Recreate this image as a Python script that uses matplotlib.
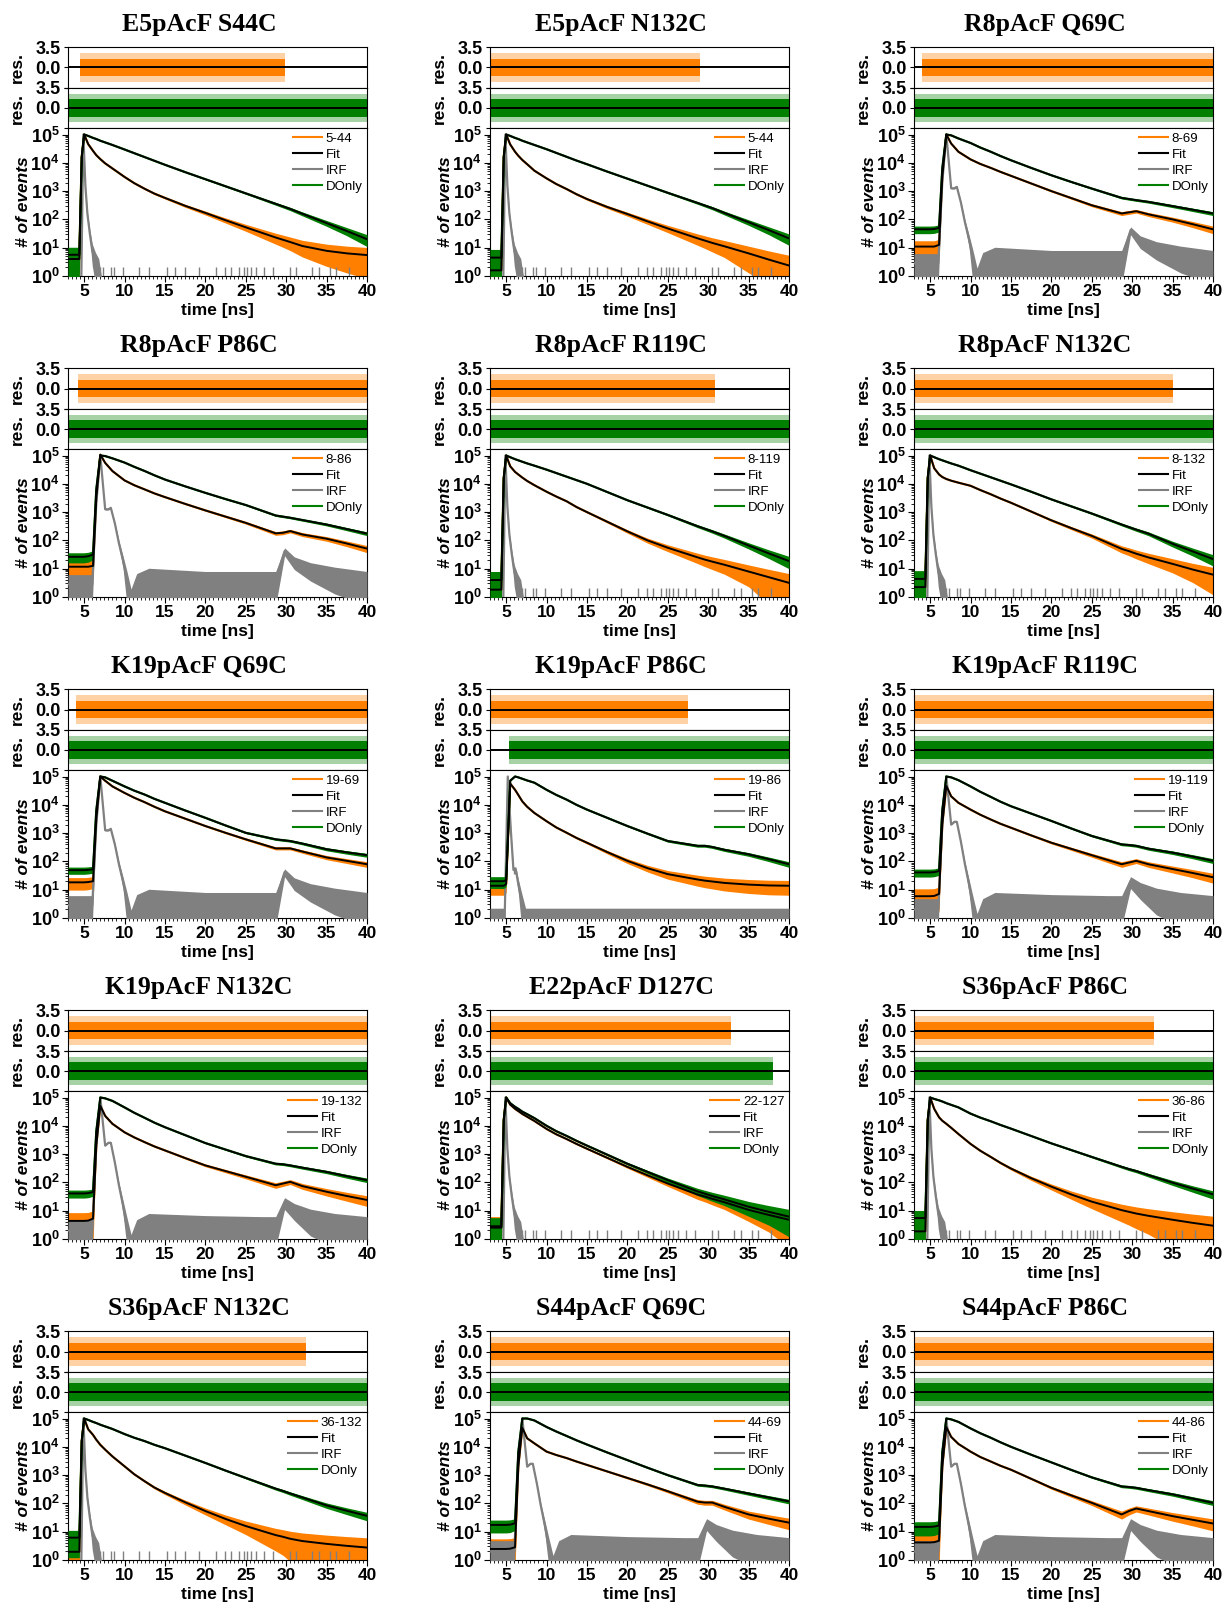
"""
Decaimientos TCSPC (aceptor / solo donador) con residuos, 15 mutantes.
"""
import numpy as np
import matplotlib
matplotlib.use("Agg")
import matplotlib.pyplot as plt
from matplotlib.lines import Line2D
from matplotlib.ticker import MultipleLocator, FixedLocator, FuncFormatter, LogLocator, NullFormatter

plt.rcParams["font.family"] = ["Liberation Sans", "DejaVu Sans"]
plt.rcParams["font.weight"] = "bold"
plt.rcParams["mathtext.fontset"] = "custom"
plt.rcParams["mathtext.rm"] = "Liberation Sans:bold"
plt.rcParams["mathtext.bf"] = "Liberation Sans:bold"

# ---- datos (log10 de cuentas) ----
TITLES = ["E5pAcF S44C", "E5pAcF N132C", "R8pAcF Q69C",
          "R8pAcF P86C", "R8pAcF R119C", "R8pAcF N132C",
          "K19pAcF Q69C", "K19pAcF P86C", "K19pAcF R119C",
          "K19pAcF N132C", "E22pAcF D127C", "S36pAcF P86C",
          "S36pAcF N132C", "S44pAcF Q69C", "S44pAcF P86C"]
LABELS = ["5-44", "5-44", "8-69", "8-86", "8-119", "8-132", "19-69", "19-86",
          "19-119", "19-132", "22-127", "36-86", "36-132", "44-69", "44-86"]

TIME = [3.0, 4.4, 4.7, 5.0, 5.5, 6.1, 6.5, 7.0, 7.6, 8.5, 10, 11.2, 12.5, 13.7, 15,
        17.5, 20, 22.5, 25, 28.7, 29.6, 30.5, 32, 35, 37.5, 40]

acc_e5_s44c = [0.6, 0.6, 4.2, 5.0, 4.66, 4.42, 4.27, 4.13, 3.98, 3.8, 3.5, 3.28, 3.08, 2.91, 2.76, 2.48, 2.23, 1.97, 1.72, 1.36, 1.28, 1.2, 1.06, 0.89, 0.8, 0.74]
don_e5_s44c = [0.75, 0.75, 4.2, 5.0, 4.95, 4.88, 4.84, 4.78, 4.72, 4.63, 4.47, 4.34, 4.2, 4.07, 3.93, 3.67, 3.42, 3.17, 2.92, 2.55, 2.46, 2.37, 2.2, 1.87, 1.59, 1.3]
acc_e5_n132c = [0.2, 0.2, 4.2, 5.0, 4.65, 4.39, 4.25, 4.1, 3.95, 3.72, 3.45, 3.25, 3.07, 2.89, 2.72, 2.44, 2.19, 1.93, 1.68, 1.33, 1.25, 1.17, 1.05, 0.8, 0.58, 0.37]
don_e5_n132c = [0.65, 0.65, 4.2, 5.0, 4.95, 4.88, 4.84, 4.78, 4.72, 4.63, 4.48, 4.35, 4.21, 4.08, 3.95, 3.69, 3.44, 3.19, 2.94, 2.58, 2.49, 2.4, 2.23, 1.9, 1.62, 1.33]
acc_r8_q69c = [1.04, 1.04, 1.04, 1.04, 1.04, 1.1, 3.5, 5.0, 4.68, 4.39, 4.12, 3.96, 3.82, 3.68, 3.54, 3.27, 3.0, 2.75, 2.5, 2.21, 2.25, 2.29, 2.18, 2.0, 1.83, 1.65]
don_r8_q69c = [1.65, 1.65, 1.65, 1.65, 1.66, 1.7, 3.8, 5.0, 4.97, 4.86, 4.7, 4.54, 4.39, 4.24, 4.09, 3.82, 3.56, 3.32, 3.09, 2.76, 2.72, 2.68, 2.62, 2.47, 2.34, 2.21]
acc_r8_p86c = [1.07, 1.07, 1.07, 1.07, 1.07, 1.1, 3.5, 5.03, 4.74, 4.45, 4.12, 3.95, 3.8, 3.66, 3.53, 3.29, 3.06, 2.84, 2.62, 2.25, 2.27, 2.33, 2.21, 2.06, 1.89, 1.71]
don_r8_p86c = [1.42, 1.42, 1.42, 1.42, 1.44, 1.5, 3.8, 5.0, 4.98, 4.9, 4.75, 4.6, 4.45, 4.3, 4.15, 3.91, 3.68, 3.46, 3.25, 2.88, 2.84, 2.8, 2.72, 2.56, 2.4, 2.24]
acc_r8_r119c = [0.26, 0.26, 4.2, 5.0, 4.62, 4.42, 4.33, 4.22, 4.1, 3.95, 3.72, 3.55, 3.38, 3.18, 3.0, 2.66, 2.32, 2.0, 1.74, 1.4, 1.32, 1.25, 1.14, 0.9, 0.7, 0.5]
don_r8_r119c = [0.6, 0.6, 4.2, 5.0, 4.94, 4.87, 4.83, 4.78, 4.72, 4.64, 4.5, 4.38, 4.25, 4.13, 4.0, 3.71, 3.42, 3.16, 2.9, 2.5, 2.41, 2.32, 2.16, 1.82, 1.54, 1.27]
acc_r8_n132c = [0.35, 0.35, 4.2, 5.0, 4.55, 4.33, 4.24, 4.17, 4.11, 4.04, 3.93, 3.78, 3.63, 3.48, 3.33, 3.02, 2.71, 2.43, 2.16, 1.7, 1.62, 1.53, 1.4, 1.17, 0.97, 0.79]
don_r8_n132c = [0.64, 0.64, 4.2, 5.0, 4.94, 4.87, 4.83, 4.78, 4.72, 4.64, 4.48, 4.36, 4.23, 4.11, 3.98, 3.72, 3.45, 3.2, 2.95, 2.56, 2.47, 2.38, 2.24, 1.88, 1.61, 1.34]
acc_k19_q69c = [1.26, 1.26, 1.26, 1.26, 1.27, 1.3, 3.5, 5.0, 4.85, 4.65, 4.42, 4.25, 4.09, 3.93, 3.77, 3.51, 3.25, 3.01, 2.78, 2.46, 2.46, 2.46, 2.35, 2.14, 2.02, 1.9]
don_k19_q69c = [1.69, 1.69, 1.69, 1.69, 1.7, 1.72, 3.8, 5.0, 4.97, 4.85, 4.65, 4.5, 4.36, 4.21, 4.07, 3.8, 3.54, 3.27, 3.01, 2.78, 2.75, 2.72, 2.63, 2.43, 2.32, 2.22]
acc_k19_p86c = [1.14, 1.14, 1.14, 1.2, 4.75, 4.53, 4.35, 4.12, 3.93, 3.71, 3.42, 3.2, 3.01, 2.83, 2.66, 2.33, 2.02, 1.76, 1.55, 1.36, 1.32, 1.29, 1.24, 1.18, 1.15, 1.14]
don_k19_p86c = [1.3, 1.3, 1.3, 1.35, 4.85, 5.0, 4.97, 4.92, 4.86, 4.78, 4.53, 4.35, 4.18, 4.0, 3.83, 3.54, 3.25, 2.98, 2.72, 2.55, 2.55, 2.51, 2.41, 2.25, 2.08, 1.9]
acc_k19_r119c = [0.77, 0.77, 0.77, 0.77, 0.78, 0.85, 3.3, 4.67, 4.3, 4.07, 3.83, 3.65, 3.48, 3.33, 3.19, 2.92, 2.66, 2.44, 2.22, 1.9, 1.96, 2.02, 1.9, 1.73, 1.59, 1.44]
don_k19_r119c = [1.61, 1.61, 1.61, 1.61, 1.62, 1.66, 3.8, 5.0, 4.97, 4.87, 4.65, 4.46, 4.28, 4.11, 3.95, 3.69, 3.43, 3.16, 2.9, 2.6, 2.58, 2.55, 2.45, 2.31, 2.17, 2.02]
acc_k19_n132c = [0.64, 0.64, 0.64, 0.64, 0.65, 0.72, 3.3, 4.71, 4.35, 4.07, 3.77, 3.59, 3.42, 3.27, 3.13, 2.86, 2.6, 2.4, 2.2, 1.9, 1.96, 2.02, 1.87, 1.67, 1.52, 1.38]
don_k19_n132c = [1.61, 1.61, 1.61, 1.61, 1.62, 1.66, 3.8, 5.0, 4.97, 4.88, 4.65, 4.46, 4.28, 4.11, 3.95, 3.67, 3.39, 3.16, 2.93, 2.66, 2.64, 2.6, 2.52, 2.37, 2.22, 2.08]
acc_e22_d127c = [0.45, 0.45, 4.2, 5.0, 4.75, 4.6, 4.52, 4.42, 4.32, 4.17, 3.89, 3.7, 3.53, 3.36, 3.19, 2.87, 2.55, 2.25, 1.96, 1.57, 1.5, 1.42, 1.3, 1.03, 0.85, 0.68]
don_e22_d127c = [0.4, 0.4, 4.2, 5.0, 4.8, 4.67, 4.6, 4.5, 4.41, 4.27, 4.0, 3.81, 3.64, 3.47, 3.3, 2.98, 2.66, 2.37, 2.08, 1.68, 1.6, 1.52, 1.4, 1.14, 0.96, 0.79]
acc_s36_p86c = [0.27, 0.27, 4.2, 5.0, 4.6, 4.3, 4.18, 4.07, 3.93, 3.71, 3.36, 3.12, 2.9, 2.69, 2.49, 2.15, 1.85, 1.57, 1.32, 1.02, 0.96, 0.9, 0.82, 0.68, 0.57, 0.47]
don_s36_p86c = [0.74, 0.74, 4.2, 5.0, 4.95, 4.9, 4.86, 4.8, 4.74, 4.65, 4.43, 4.29, 4.16, 4.03, 3.9, 3.64, 3.38, 3.14, 2.9, 2.55, 2.47, 2.4, 2.26, 1.99, 1.78, 1.58]
acc_s36_n132c = [0.29, 0.29, 4.2, 5.0, 4.62, 4.42, 4.25, 4.07, 3.9, 3.66, 3.31, 3.03, 2.78, 2.56, 2.37, 2.04, 1.73, 1.45, 1.2, 0.88, 0.82, 0.75, 0.67, 0.57, 0.5, 0.44]
don_s36_n132c = [0.79, 0.79, 4.2, 5.0, 4.95, 4.88, 4.84, 4.78, 4.72, 4.63, 4.45, 4.32, 4.2, 4.07, 3.95, 3.69, 3.43, 3.16, 2.9, 2.52, 2.44, 2.35, 2.21, 1.93, 1.74, 1.56]
acc_s44_q69c = [0.39, 0.39, 0.39, 0.39, 0.4, 0.45, 3.3, 4.67, 4.3, 4.12, 3.83, 3.71, 3.6, 3.48, 3.36, 3.13, 2.9, 2.67, 2.43, 2.06, 2.03, 2.03, 1.88, 1.61, 1.46, 1.32]
don_s44_q69c = [1.24, 1.24, 1.24, 1.24, 1.25, 1.3, 3.8, 5.0, 5.0, 4.93, 4.7, 4.54, 4.38, 4.23, 4.08, 3.8, 3.53, 3.26, 3.0, 2.65, 2.63, 2.6, 2.52, 2.35, 2.21, 2.07]
acc_s44_p86c = [0.62, 0.62, 0.62, 0.62, 0.63, 0.68, 3.3, 4.7, 4.35, 4.1, 3.83, 3.64, 3.48, 3.33, 3.19, 2.87, 2.55, 2.28, 2.02, 1.61, 1.73, 1.82, 1.73, 1.55, 1.42, 1.29]
don_s44_p86c = [1.17, 1.17, 1.17, 1.17, 1.18, 1.22, 3.8, 5.0, 4.97, 4.88, 4.65, 4.48, 4.32, 4.16, 4.0, 3.72, 3.45, 3.18, 2.92, 2.6, 2.58, 2.55, 2.47, 2.32, 2.17, 2.02]

ACC_CURVES = [acc_e5_s44c, acc_e5_n132c, acc_r8_q69c, acc_r8_p86c, acc_r8_r119c,
              acc_r8_n132c, acc_k19_q69c, acc_k19_p86c, acc_k19_r119c, acc_k19_n132c,
              acc_e22_d127c, acc_s36_p86c, acc_s36_n132c, acc_s44_q69c, acc_s44_p86c]
DON_CURVES = [don_e5_s44c, don_e5_n132c, don_r8_q69c, don_r8_p86c, don_r8_r119c,
              don_r8_n132c, don_k19_q69c, don_k19_p86c, don_k19_r119c, don_k19_n132c,
              don_e22_d127c, don_s36_p86c, don_s36_n132c, don_s44_q69c, don_s44_p86c]

# IRF (log10 cuentas)
IRF_A_TIME = [3.0, 4.6, 4.9, 5.15, 5.4, 5.7, 6.0, 6.4, 6.8, 7.2, 40.0]
IRF_A = [-1.0, -1.0, 5.0, 3.2, 2.2, 1.5, 0.9, 0.5, 0.2, -1.0, -1.0]
IRF_B_TIME = [3.0, 6.0, 6.5, 7.0, 7.6, 8.0, 8.3, 8.8, 9.3, 9.8, 10.3, 10.8, 11.5,
              13.0, 20.0, 27.0, 28.7, 29.8, 31.0, 33.0, 36.0, 40.0]
IRF_B1 = [0.45, 0.45, 3.3, 5.0, 3.1, 3.1, 3.15, 2.6, 1.9, 1.3, 0.6, -0.3, 0.5,
          0.75, 0.6, 0.6, 0.6, 1.62, 1.25, 1.0, 0.8, 0.6]
IRF_B2 = [0.3, 0.3, 3.3, 5.0, 3.3, 3.4, 3.4, 2.7, 1.9, 1.2, 0.4, -0.5, 0.3,
          0.6, 0.5, 0.45, 0.45, 1.3, 1.05, 0.8, 0.6, 0.45]
IRF_C_TIME = [3.0, 4.8, 5.2, 5.6, 5.9, 6.2, 6.5, 6.9, 7.4, 40.0]
IRF_C = [-0.2, -0.2, 5.0, 3.0, 1.7, 1.7, 1.2, 0.6, -0.2, -0.2]
IRF_KIND = ["A", "A", "B1", "B1", "A", "A", "B1", "C", "B2", "B2", "A", "A", "A", "B2", "B2"]
# picos aislados de 1-2 cuentas en el IRF estrecho
SPIKE_TIMES = [6.9, 7.3, 8.3, 8.7, 9.8, 11.8, 13.0, 15.3, 16.2, 17.5, 19.2, 21.3,
               22.4, 23.2, 24.1, 24.8, 25.2, 25.6, 26.3, 27.3, 28.4, 30.5, 31.2,
               33.2, 34.1, 35.4, 36.2, 37.8]

# intervalo (ns) de los residuos
RES_ACC_SPAN = [(4.5, 29.8), (3, 29.0), (4.0, 40), (4.2, 40), (3, 30.8), (3, 35.0),
                (4.0, 40), (3, 27.5), (3, 40), (3, 40), (3, 32.8), (3, 32.7),
                (3, 32.5), (3, 40), (3, 40)]
RES_DON_SPAN = [(3, 40), (3, 40), (3, 40), (3, 40), (3, 40), (3, 40), (3, 40),
                (5.3, 40), (3, 40), (3, 40), (3, 38.0), (3, 40), (3, 40), (3, 40), (3, 40)]

ORANGE = "#ff7f00"
GREEN = "#007f00"
GRAY = "#808080"

W, H = 1231, 1610
COL_X = [68, 490, 914]
AX_W = 299
ROW_STEP = 321


def rect(x, ytop, w, h):
    return [x / W, 1 - (ytop + h) / H, w / W, h / H]


def band(ax, t, logc, color, z):
    """Banda de ruido poissoniano alrededor de la curva."""
    n = 10 ** np.asarray(logc)
    lo = np.maximum(n - 2 * np.sqrt(n), 0.5)
    hi = n + 2 * np.sqrt(n)
    ax.fill_between(t, lo, hi, color=color, lw=0, zorder=z)
    ax.plot(t, n, color=color, lw=1.6, zorder=z)


def residual(ax, span, color):
    ax.fill_between(span, -2.4, 2.4, color=color, alpha=0.35, lw=0)
    ax.fill_between(span, -1.5, 1.5, color=color, lw=0)
    ax.axhline(0, color="black", lw=1.4)
    ax.set_xlim(3, 40)
    ax.set_ylim(-3.5, 3.5)
    ax.yaxis.set_major_locator(FixedLocator([-3.5, 0, 3.5]))
    ax.set_yticklabels(["", "0.0", "3.5"])
    ax.tick_params(axis="y", direction="out", length=3, labelsize=13, pad=2)
    ax.tick_params(axis="x", bottom=False, labelbottom=False)
    ax.set_ylabel("res.", fontsize=12.5, fontweight="bold")
    ax.yaxis.set_label_coords(-0.145, 0.5)


fig = plt.figure(figsize=(W / 100, H / 100), dpi=100)

for i in range(15):
    r, c = divmod(i, 3)
    x0 = COL_X[c]
    y0 = ROW_STEP * r

    fig.text((x0 + 131) / W, 1 - (30.5 + y0) / H, TITLES[i], ha="center", va="baseline",
             fontsize=18.5, fontweight="bold", family="Liberation Serif")

    ax_r1 = fig.add_axes(rect(x0, 47 + y0, AX_W, 41))
    ax_r2 = fig.add_axes(rect(x0, 88 + y0, AX_W, 40))
    ax = fig.add_axes(rect(x0, 128 + y0, AX_W, 148))

    residual(ax_r1, RES_ACC_SPAN[i], ORANGE)
    residual(ax_r2, RES_DON_SPAN[i], GREEN)

    # IRF
    kind = IRF_KIND[i]
    if kind == "A":
        t_irf, v_irf = IRF_A_TIME, IRF_A
    elif kind == "B1":
        t_irf, v_irf = IRF_B_TIME, IRF_B1
    elif kind == "B2":
        t_irf, v_irf = IRF_B_TIME, IRF_B2
    else:
        t_irf, v_irf = IRF_C_TIME, IRF_C

    band(ax, TIME, ACC_CURVES[i], ORANGE, 2)
    band(ax, t_irf, v_irf, GRAY, 3)
    if kind == "A":
        ax.vlines(SPIKE_TIMES, 1, 2, color=GRAY, lw=1.0, zorder=3)
    band(ax, TIME, DON_CURVES[i], GREEN, 4)
    ax.plot(TIME, 10 ** np.asarray(ACC_CURVES[i]), color="black", lw=1.4, zorder=5)
    ax.plot(TIME, 10 ** np.asarray(DON_CURVES[i]), color="black", lw=1.4, zorder=5)

    ax.set_yscale("log")
    ax.set_xlim(3, 40)
    ax.set_ylim(1, 10 ** 5.23)
    ax.xaxis.set_major_locator(FixedLocator([5, 10, 15, 20, 25, 30, 35, 40]))
    ax.xaxis.set_minor_locator(MultipleLocator(0.5))
    ax.yaxis.set_major_locator(FixedLocator([1, 10, 100, 1e3, 1e4, 1e5]))
    ax.yaxis.set_major_formatter(FuncFormatter(lambda v, p: r"$\mathbf{10^{%d}}$" % round(np.log10(v))))
    ax.yaxis.set_minor_locator(LogLocator(base=10, subs=np.arange(2, 10), numticks=20))
    ax.yaxis.set_minor_formatter(NullFormatter())
    ax.tick_params(which="major", direction="out", length=4, labelsize=12.5, pad=2)
    ax.tick_params(axis="y", which="major", labelsize=13)
    ax.tick_params(which="minor", direction="out", length=2)
    ax.set_xlabel("time [ns]", fontsize=12.5, fontweight="bold")
    ax.xaxis.set_label_coords(0.5, -0.185)
    ax.set_ylabel("# of events", fontsize=12.5, fontweight="bold", style="italic")
    ax.yaxis.set_label_coords(-0.125, 0.5)

    handles = [Line2D([], [], color=ORANGE, lw=1.5), Line2D([], [], color="black", lw=1.5),
               Line2D([], [], color=GRAY, lw=1.5), Line2D([], [], color=GREEN, lw=1.5)]
    ax.legend(handles, [LABELS[i], "Fit", "IRF", "DOnly"], loc="upper right",
              frameon=False, prop={"size": 9.5, "weight": "normal"},
              handlelength=2.2, handletextpad=0.3, labelspacing=0.28,
              borderaxespad=0.15, borderpad=0.2)

fig.savefig("out.png", dpi=100)
